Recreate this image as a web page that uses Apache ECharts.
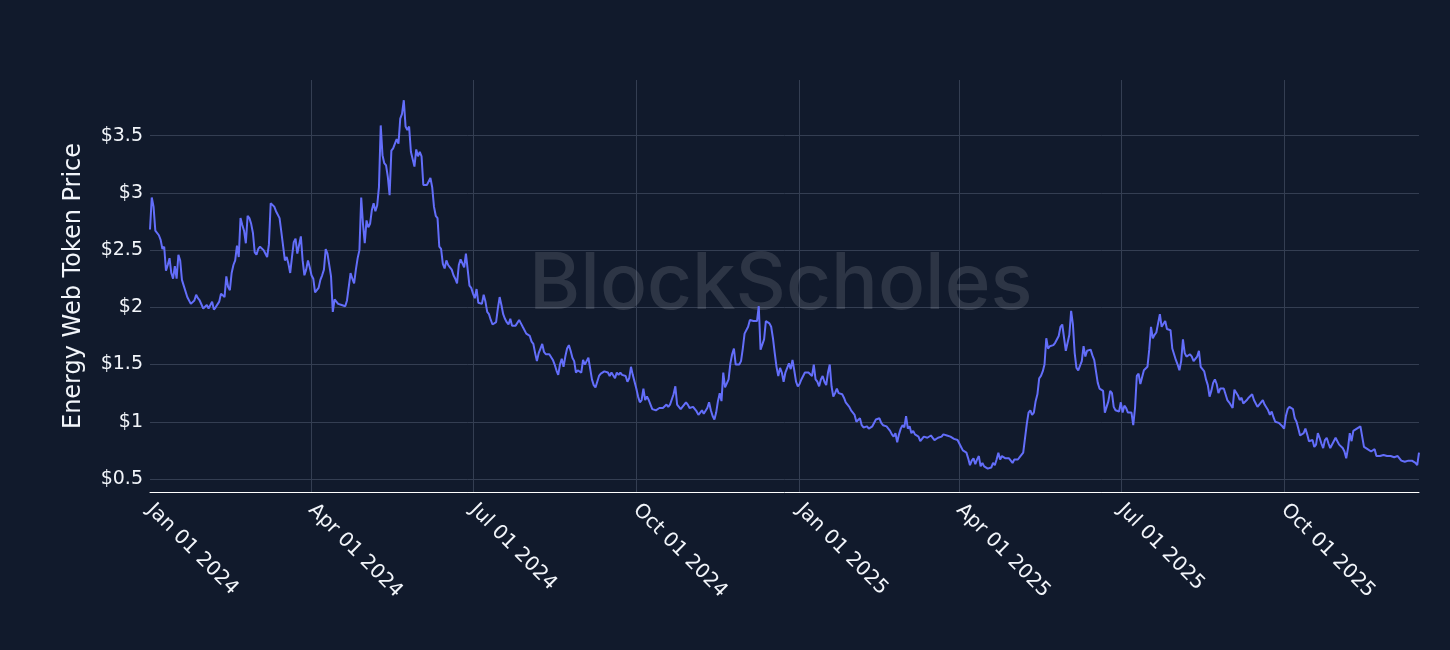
<!DOCTYPE html>
<html>
<head>
<meta charset="utf-8">
<script src="https://cdn.jsdelivr.net/npm/echarts@6/dist/echarts.min.js"></script>
<style>
html,body{margin:0;padding:0;background:#111a2c;}
#chart{width:1450px;height:650px;}
</style>
</head>
<body>
<div id="chart"></div>
<script>
// ---- DATA (daily closes) ----
const startDate = [2024, 0, 1]; // Jan 01 2024, one value per day
const price_2024_q1 = [2.68,2.96,2.88,2.67,2.67,2.63,2.59,2.51,2.53,2.32,
  2.37,2.43,2.30,2.25,2.36,2.25,2.46,2.41,2.24,2.19,
  2.18,2.09,2.08,2.03,2.02,2.06,2.11,2.08,2.06,2.07,
  1.99,2.00,2.02,1.99,2.00,2.05,1.98,2.00,1.99,2.05,
  2.12,2.12,2.09,2.27,2.18,2.15,2.30,2.37,2.41,2.54,
  2.44,2.78,2.72,2.67,2.56,2.80,2.78,2.73,2.65,2.48,
  2.46,2.51,2.53,2.54,2.50,2.47,2.44,2.55,2.91,2.92,
  2.88,2.84,2.83,2.78,2.66,2.65,2.41,2.44,2.38,2.30,
  2.44,2.57,2.60,2.47,2.46,2.62,2.41,2.28,2.33,2.41,
  2.35];
const price_2024_q2 = [2.28,2.25,2.13,2.15,2.17,2.24,2.28,2.33,2.51,
  2.47,2.46,2.27,1.96,2.07,2.06,2.03,2.02,2.02,2.03,
  2.01,2.06,2.05,2.30,2.25,2.21,2.33,2.43,2.50,2.96,
  2.73,2.56,2.76,2.70,2.73,2.85,2.91,2.84,2.89,3.05,
  3.59,3.33,3.26,3.24,3.14,2.98,3.37,3.39,3.43,3.47,
  3.43,3.65,3.69,3.81,3.58,3.55,3.58,3.36,3.35,3.23,
  3.38,3.32,3.36,3.32,3.07,3.07,3.07,3.08,3.13,3.05,
  2.88,2.80,2.78,2.53,2.51,2.38,2.34,2.41,2.37,2.35,
  2.33,2.28,2.25,2.21,2.37,2.42,2.42,2.35,2.47,2.33,
  2.19,2.17];
const price_2024_q3 = [2.12,2.08,2.16,2.04,2.03,2.03,2.11,2.05,
  1.96,1.94,1.89,1.85,1.85,1.87,1.99,2.09,2.02,1.94,
  1.90,1.87,1.85,1.90,1.84,1.84,1.84,1.83,1.89,1.86,
  1.83,1.82,1.77,1.77,1.75,1.70,1.68,1.60,1.53,1.60,
  1.64,1.68,1.61,1.59,1.59,1.59,1.59,1.54,1.50,1.45,
  1.41,1.50,1.55,1.48,1.57,1.64,1.67,1.62,1.56,1.53,
  1.43,1.45,1.44,1.43,1.54,1.50,1.53,1.56,1.57,1.37,
  1.32,1.30,1.35,1.40,1.42,1.43,1.44,1.43,1.43,1.40,
  1.43,1.44,1.38,1.43,1.41,1.43,1.41,1.40,1.40,1.35,
  1.38,1.48,1.41,1.40];
const price_2024_q4 = [1.29,1.22,1.17,1.19,1.29,1.19,
  1.22,1.19,1.15,1.11,1.11,1.10,1.11,1.12,1.13,1.12,
  1.11,1.15,1.13,1.15,1.15,1.24,1.31,1.15,1.16,1.11,
  1.13,1.15,1.17,1.15,1.12,1.11,1.13,1.11,1.09,1.06,
  1.06,1.10,1.07,1.08,1.12,1.17,1.10,1.05,1.02,1.08,
  1.18,1.25,1.18,1.43,1.30,1.31,1.37,1.51,1.59,1.64,
  1.50,1.51,1.50,1.53,1.64,1.77,1.76,1.83,1.89,1.90,
  1.88,1.89,1.88,2.01,1.63,1.62,1.72,1.88,1.87,1.86,
  1.83,1.73,1.60,1.48,1.40,1.47,1.43,1.35,1.43,1.44,
  1.51,1.46,1.54,1.45,1.35,1.31];
const price_2025_q1 = [1.33,1.37,1.40,1.43,
  1.43,1.43,1.44,1.40,1.50,1.37,1.35,1.31,1.37,1.40,
  1.35,1.32,1.43,1.50,1.31,1.22,1.25,1.29,1.25,1.24,
  1.24,1.21,1.17,1.17,1.13,1.10,1.10,1.06,1.00,1.00,
  1.03,0.97,0.95,0.96,0.96,0.94,0.94,0.96,0.96,1.02,
  1.01,1.03,0.99,0.97,0.97,0.96,0.94,0.92,0.89,0.87,
  0.90,0.82,0.89,0.94,0.97,0.95,1.05,0.94,0.96,0.90,
  0.92,0.89,0.90,0.87,0.83,0.84,0.87,0.87,0.86,0.87,
  0.88,0.86,0.84,0.85,0.86,0.87,0.87,0.89,0.88,0.88,
  0.87,0.87,0.86,0.85,0.84,0.84];
const price_2025_q2 = [0.81,0.78,0.75,0.74,
  0.73,0.68,0.62,0.66,0.68,0.63,0.67,0.70,0.61,0.64,
  0.61,0.60,0.59,0.59,0.60,0.64,0.62,0.67,0.73,0.67,
  0.70,0.70,0.68,0.69,0.68,0.67,0.64,0.67,0.68,0.67,
  0.69,0.68,0.73,0.74,0.98,1.08,1.10,1.06,1.08,1.18,
  1.24,1.38,1.40,1.44,1.50,1.73,1.64,1.66,1.66,1.67,
  1.69,1.69,1.75,1.83,1.85,1.84,1.62,1.61,1.76,1.97,
  1.85,1.60,1.47,1.45,1.45,1.53,1.66,1.57,1.62,1.62,
  1.63,1.58,1.54,1.53,1.34,1.29,1.29,1.27,1.08,1.09,
  1.18,1.27,1.25,1.13,1.10,1.10,1.09];
const price_2025_q3 = [1.17,1.08,1.14,
  1.12,1.08,1.08,1.08,0.97,1.12,1.40,1.42,1.33,1.33,
  1.45,1.44,1.48,1.63,1.83,1.73,1.76,1.78,1.79,1.94,
  1.83,1.83,1.88,1.81,1.82,1.80,1.64,1.59,1.54,1.50,
  1.45,1.53,1.72,1.60,1.57,1.57,1.59,1.57,1.53,1.54,
  1.57,1.62,1.48,1.47,1.44,1.37,1.32,1.22,1.27,1.34,
  1.37,1.33,1.25,1.29,1.30,1.29,1.29,1.19,1.17,1.16,
  1.12,1.28,1.27,1.23,1.19,1.21,1.16,1.16,1.19,1.21,
  1.22,1.24,1.19,1.18,1.13,1.15,1.16,1.19,1.15,1.14,
  1.10,1.06,1.09,1.04,1.00,0.99,0.99,0.99,0.96];
const price_2025_q4 = [0.94,
  1.05,1.11,1.13,1.12,1.11,1.03,1.00,0.94,0.88,0.87,
  0.90,0.94,0.89,0.83,0.84,0.84,0.78,0.80,0.90,0.86,
  0.81,0.77,0.84,0.86,0.81,0.77,0.78,0.83,0.86,0.83,
  0.80,0.81,0.77,0.74,0.68,0.77,0.90,0.83,0.92,0.92,
  0.94,0.94,0.96,0.87,0.78,0.77,0.76,0.76,0.74,0.75,
  0.76,0.70,0.70,0.70,0.71,0.71,0.71,0.70,0.70,0.70,
  0.69,0.69,0.69,0.70,0.68,0.66,0.65,0.65,0.64,0.66,
  0.67,0.66,0.67,0.64,0.62,0.73];

const yTicks = [0.5, 1, 1.5, 2, 2.5, 3, 3.5];
const yTickLabels = ['$0.5', '$1', '$1.5', '$2', '$2.5', '$3', '$3.5'];
const xTickMonths = ['01', '04', '07', '10'];  // labelled month starts
const monthNames = ['Jan','Feb','Mar','Apr','May','Jun','Jul','Aug','Sep','Oct','Nov','Dec'];
const yAxisTitle = 'Energy Web Token Price';
const watermarkText = 'BlockScholes';

// ---- build ----
const prices = [].concat(price_2024_q1, price_2024_q2, price_2024_q3, price_2024_q4,
                         price_2025_q1, price_2025_q2, price_2025_q3, price_2025_q4);
const t0 = Date.UTC(startDate[0], startDate[1], startDate[2]);
const pad = n => (n < 10 ? '0' : '') + n;
const dates = prices.map((_, i) => {
  const d = new Date(t0 + i * 86400000);
  return d.getUTCFullYear() + '-' + pad(d.getUTCMonth() + 1) + '-' + pad(d.getUTCDate());
});
const isQuarterStart = v => v.slice(8) === '01' && xTickMonths.indexOf(v.slice(5, 7)) >= 0;
const fmtDate = v => monthNames[+v.slice(5, 7) - 1] + ' ' + v.slice(8) + ' ' + v.slice(0, 4);

const FONT = 'DejaVu Sans';
const TXT = '#f2f5fa';
const GRIDC = '#343e52';

const chart = echarts.init(document.getElementById('chart'), null, {renderer: 'canvas'});
chart.setOption({
  backgroundColor: '#111a2c',
  animation: false,
  textStyle: {fontFamily: FONT},
  grid: {left: 150, right: 31, top: 80, bottom: 158, containLabel: false},
  graphic: [{
    type: 'text', left: 529, top: 247, z: 1, silent: true,
    style: {text: watermarkText, fill: 'rgba(255,255,255,0.12)',
            font: '500 78px Inter'}
  }],
  xAxis: {
    type: 'category', data: dates, boundaryGap: false,
    axisLine: {show: true, lineStyle: {color: '#ffffff', width: 1}},
    axisTick: {show: false},
    axisLabel: {
      interval: (i, v) => isQuarterStart(v),
      formatter: v => fmtDate(v),
      rotate: -45, margin: 15, color: TXT, fontSize: 20, fontFamily: FONT
    },
    splitLine: {show: true, interval: (i, v) => i > 0 && isQuarterStart(v),
                lineStyle: {color: GRIDC, width: 1}}
  },
  yAxis: {
    type: 'value', min: 0.386, max: 3.987,
    name: yAxisTitle, nameLocation: 'middle', nameGap: 64,
    nameTextStyle: {color: TXT, fontSize: 24, fontFamily: FONT},
    axisLine: {show: false}, axisTick: {show: false, customValues: yTicks},
    axisLabel: {customValues: yTicks, color: TXT, fontSize: 19, fontFamily: FONT, margin: 7,
                formatter: v => yTickLabels[yTicks.indexOf(+(+v).toFixed(2))] || ''},
    splitLine: {show: true, lineStyle: {color: GRIDC, width: 1}}
  },
  series: [{
    type: 'line', data: prices, showSymbol: false, symbol: 'none', z: 3,
    lineStyle: {color: '#636efa', width: 2}, itemStyle: {color: '#636efa'}
  }]
});
</script>
</body>
</html>
